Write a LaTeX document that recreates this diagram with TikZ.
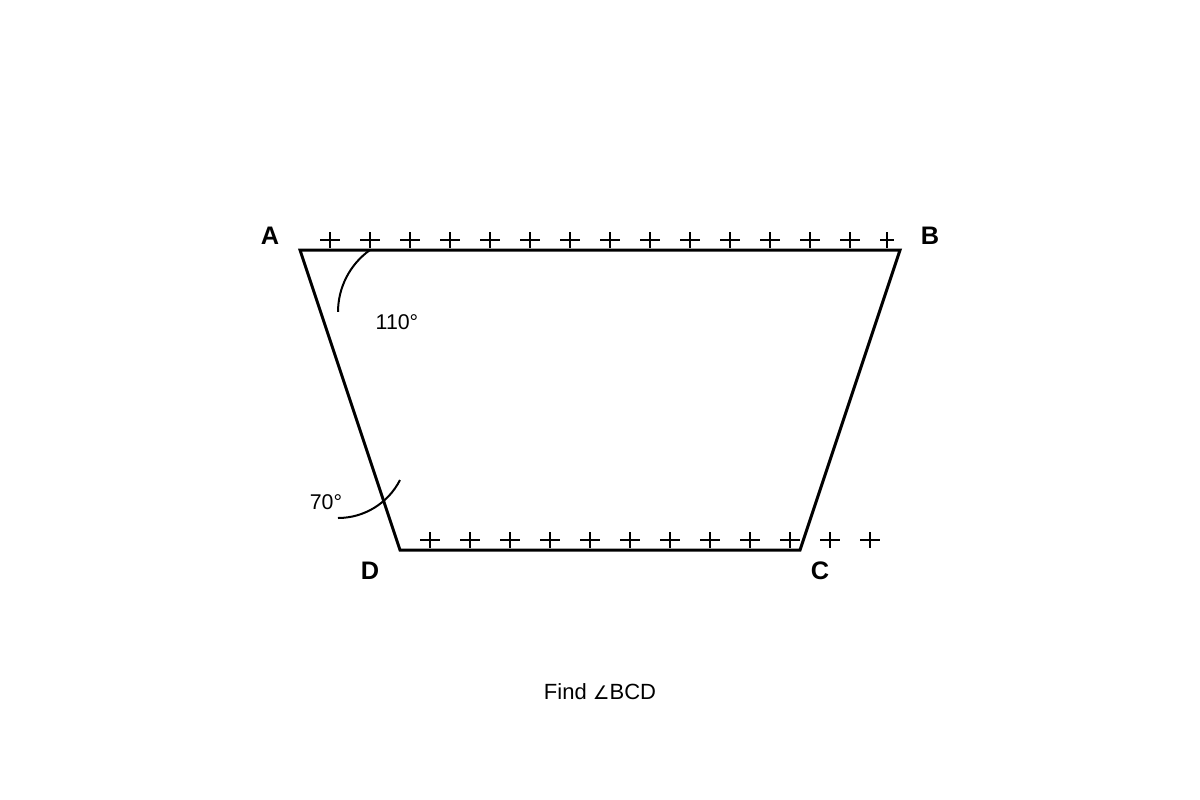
\documentclass[tikz,border=0pt]{standalone}
\usepackage{fontspec}
\setmainfont{Liberation Sans}
\newfontfamily\symfont{DejaVu Sans}
\begin{document}
\begin{tikzpicture}[x=0.75pt,y=-0.75pt,
  vlabel/.style={font=\fontsize{19}{21}\selectfont\bfseries, inner sep=0pt},
  alabel/.style={font=\fontsize{16}{18}\selectfont, inner sep=0pt},
  plusmark/.style={line width=1.5pt},
  edge/.style={line width=2.25pt, line join=miter},
  anglearc/.style={line width=1.5pt}]
\useasboundingbox (0,0) rectangle (1200,800);
\coordinate (A) at (300,250);
\coordinate (B) at (900,250);
\coordinate (C) at (800,550);
\coordinate (D) at (400,550);
% plus marks on top
\foreach \x in {330,370,...,850} {
  \draw[plusmark] (\x-10,240) -- (\x+10,240) (\x,232) -- (\x,248);
}
\draw[plusmark] (880,240) -- (894,240) (887,232) -- (887,248);
% plus marks on bottom
\foreach \x in {430,470,...,870} {
  \draw[plusmark] (\x-10,540) -- (\x+10,540) (\x,532) -- (\x,548);
}
\draw[edge] (A) -- (B) -- (C) -- (D) -- cycle;
% angle arcs
\draw[anglearc] (370,250) arc[start angle=-125.4, end angle=-180, radius=76];
\draw[anglearc] (400,480) arc[start angle=27, end angle=90, radius=69.6];
\node[vlabel] (lA) at (270,236) {A};
\node[vlabel] (lB) at (930,236) {B};
\node[vlabel] (lC) at (820,571) {C};
\node[vlabel] (lD) at (370,571) {D};
\node[alabel] (a110) at (397,322) {110°};
\node[alabel] (a70) at (326,502) {70°};
\node[font=\fontsize{16.5}{18}\selectfont, inner sep=0pt] (q) at (600,692) {Find {\symfont\fontsize{14}{16}\selectfont ∠}BCD};
\end{tikzpicture}
\end{document}
